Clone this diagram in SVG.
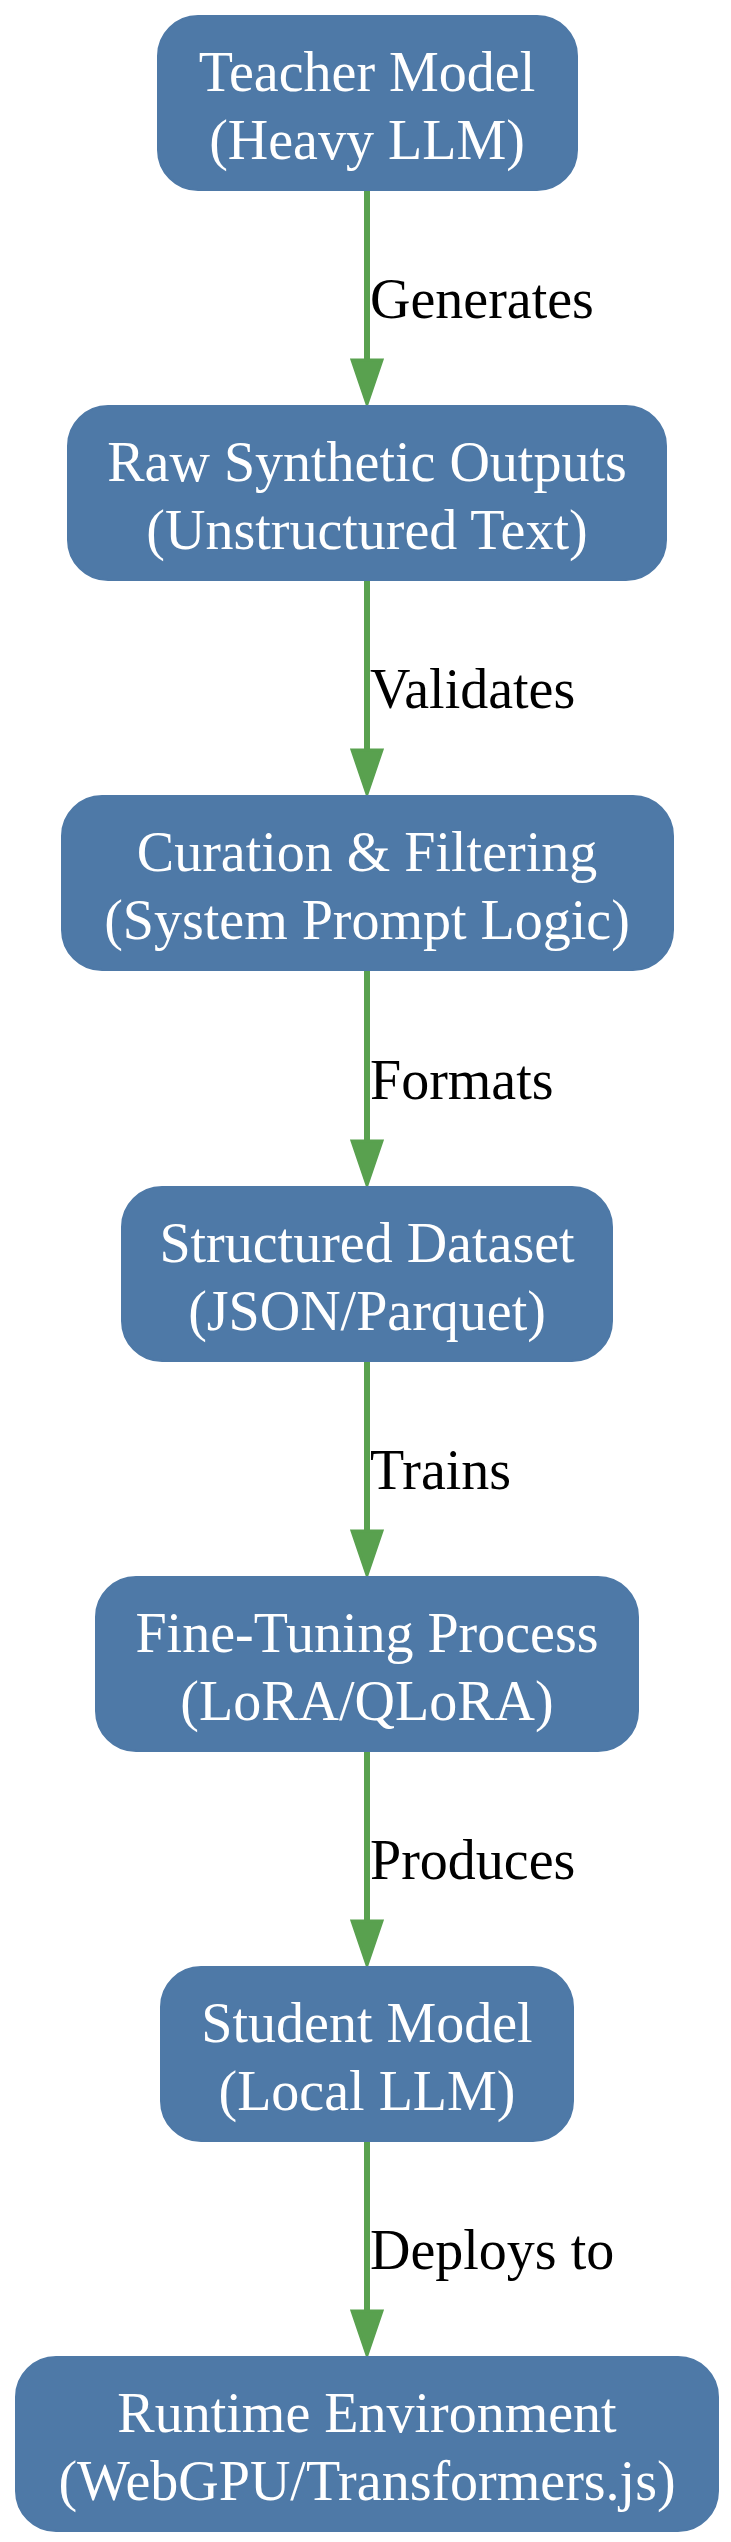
<svg xmlns="http://www.w3.org/2000/svg" width="731" height="2542" viewBox="0 0 731 2542">
<style>
.n rect{fill:#4e79a7;stroke:#4e79a7;stroke-width:2}
.n text{fill:#fff;font-family:"Liberation Serif",serif;font-size:56px;text-anchor:middle}
.e line{stroke:#59a14f;stroke-width:6}
.e polygon{fill:#59a14f;stroke:#59a14f;stroke-width:3}
.e text{fill:#000;font-family:"Liberation Serif",serif;font-size:56px}
</style>
<rect width="731" height="2542" fill="#fff"/>
<g id="edges" class="e">
<line x1="367" y1="190" x2="367" y2="362"/><polygon points="352,360 382,360 367,404"/><text x="370" y="318">Generates</text>
<line x1="367" y1="580" x2="367" y2="752"/><polygon points="352,750 382,750 367,794"/><text x="370" y="708">Validates</text>
<line x1="367" y1="970" x2="367" y2="1143"/><polygon points="352,1141 382,1141 367,1185"/><text x="370" y="1099">Formats</text>
<line x1="367" y1="1361" x2="367" y2="1533"/><polygon points="352,1531 382,1531 367,1575"/><text x="370" y="1489">Trains</text>
<line x1="367" y1="1751" x2="367" y2="1923"/><polygon points="352,1921 382,1921 367,1965"/><text x="370" y="1879">Produces</text>
<line x1="367" y1="2141" x2="367" y2="2313"/><polygon points="352,2311 382,2311 367,2355"/><text x="370" y="2269">Deploys to</text>
</g>
<g id="n1" class="n"><rect x="158" y="16" width="419" height="174" rx="40"/><text x="367" y="91">Teacher Model</text><text x="367" y="159">(Heavy LLM)</text></g>
<g id="n2" class="n"><rect x="68" y="406" width="598" height="174" rx="40"/><text x="367" y="481">Raw Synthetic Outputs</text><text x="367" y="549">(Unstructured Text)</text></g>
<g id="n3" class="n"><rect x="62" y="796" width="611" height="174" rx="40"/><text x="367" y="871">Curation &amp; Filtering</text><text x="367" y="939">(System Prompt Logic)</text></g>
<g id="n4" class="n"><rect x="122" y="1187" width="490" height="174" rx="40"/><text x="367" y="1262">Structured Dataset</text><text x="367" y="1330">(JSON/Parquet)</text></g>
<g id="n5" class="n"><rect x="96" y="1577" width="542" height="174" rx="40"/><text x="367" y="1652">Fine-Tuning Process</text><text x="367" y="1720">(LoRA/QLoRA)</text></g>
<g id="n6" class="n"><rect x="161" y="1967" width="412" height="174" rx="40"/><text x="367" y="2042">Student Model</text><text x="367" y="2110">(Local LLM)</text></g>
<g id="n7" class="n"><rect x="16" y="2357" width="702" height="174" rx="40"/><text x="367" y="2432">Runtime Environment</text><text x="367" y="2500">(WebGPU/Transformers.js)</text></g>
</svg>
